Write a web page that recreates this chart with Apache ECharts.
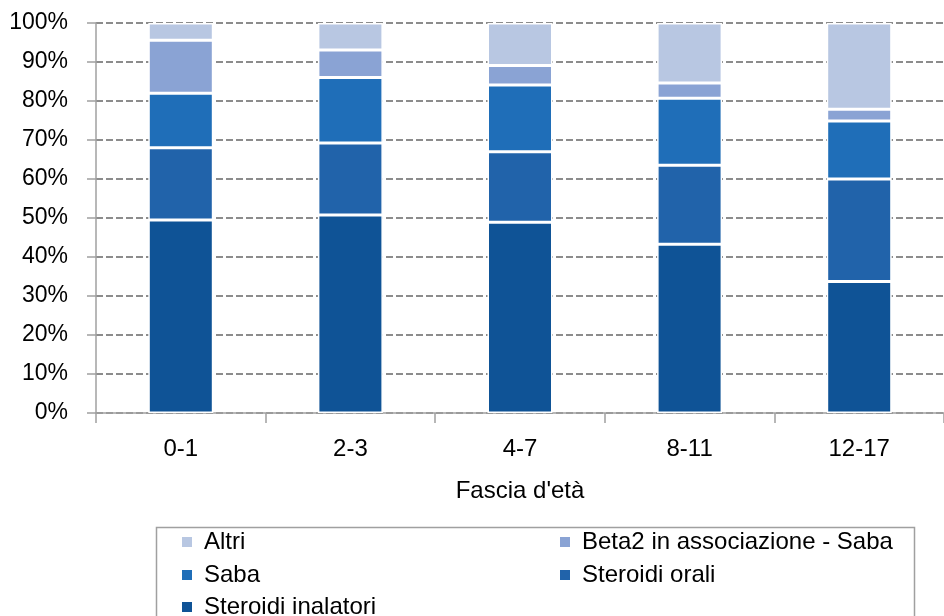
<!DOCTYPE html>
<html>
<head>
<meta charset="utf-8">
<script src="https://cdn.jsdelivr.net/npm/echarts@6/dist/echarts.min.js"></script>
<style>
html,body{margin:0;padding:0;background:#fff;}
#chart{width:944px;height:616px;}
</style>
</head>
<body>
<div id="chart"></div>
<script>
const categories = ['0-1', '2-3', '4-7', '8-11', '12-17'];
const steroidiInalatori = [49.5, 50.8, 48.9, 43.3, 33.7];
const steroidiOrali = [18.5, 18.4, 18.1, 20.2, 26.3];
const saba = [14.0, 16.8, 17.1, 17.2, 14.9];
const beta2Saba = [13.6, 7.1, 5.0, 3.9, 3.0];
const altri = [4.4, 6.9, 10.9, 15.4, 22.1];
const yTicks = [0, 10, 20, 30, 40, 50, 60, 70, 80, 90, 100];

const FONT = 'Liberation Sans';
const colors = {
  'Steroidi inalatori': '#0f5396',
  'Steroidi orali': '#2163aa',
  'Saba': '#1f6eb8',
  'Beta2 in associazione - Saba': '#8aa3d4',
  'Altri': '#b8c7e2'
};

const seriesDefs = [
  ['Steroidi inalatori', steroidiInalatori],
  ['Steroidi orali', steroidiOrali],
  ['Saba', saba],
  ['Beta2 in associazione - Saba', beta2Saba],
  ['Altri', altri]
];

// legend slots: [name, left, top]
const legendSlots = [
  ['Altri', 180, 530],
  ['Beta2 in associazione - Saba', 558, 530],
  ['Saba', 180, 563],
  ['Steroidi orali', 558, 563],
  ['Steroidi inalatori', 180, 595]
];

const chart = echarts.init(document.getElementById('chart'), null, {renderer: 'canvas'});
chart.setOption({
  animation: false,
  backgroundColor: '#fff',
  grid: {left: 96, top: 23, width: 855, height: 390, containLabel: false},
  graphic: [{
    type: 'rect', left: 154, top: 525,
    shape: {width: 758, height: 120},
    style: {fill: 'none', stroke: '#a0a0a0', lineWidth: 1.5},
    silent: true, z: 0
  }],
  legend: legendSlots.map(([name, left, top]) => ({
    orient: 'horizontal',
    left: left,
    top: top,
    padding: 0,
    icon: 'rect',
    itemWidth: 12,
    itemHeight: 12,
    textStyle: {fontFamily: FONT, fontSize: 24, color: '#000', lineHeight: 24, padding: [0, 0, 0, 6]},
    selectedMode: false,
    data: [name]
  })),
  xAxis: {
    type: 'category',
    data: categories,
    name: "Fascia d'età",
    nameLocation: 'middle',
    nameGap: 66,
    nameTextStyle: {fontFamily: FONT, fontSize: 24, color: '#000'},
    axisLine: {lineStyle: {color: '#a0a0a0', width: 1.5}},
    axisTick: {show: true, length: 10, lineStyle: {color: '#a0a0a0', width: 1.5}},
    axisLabel: {fontFamily: FONT, fontSize: 24, color: '#000', margin: 24}
  },
  yAxis: {
    type: 'value',
    min: yTicks[0],
    max: yTicks[yTicks.length - 1],
    interval: 10,
    axisLine: {show: true, lineStyle: {color: '#a0a0a0', width: 1.5}},
    axisTick: {show: true, length: 9, lineStyle: {color: '#a0a0a0', width: 1.5}},
    axisLabel: {fontFamily: FONT, fontSize: 23, color: '#000', margin: 28, formatter: '{value}%'},
    splitLine: {show: true, lineStyle: {color: '#8c8c8c', width: 1.8, type: [7, 3]}}
  },
  series: seriesDefs.map(([name, vals]) => ({
    name: name,
    type: 'bar',
    stack: 'total',
    barWidth: 65,
    data: vals,
    itemStyle: {color: colors[name], borderColor: '#ffffff', borderWidth: 1.5},
    emphasis: {disabled: true}
  }))
});
</script>
</body>
</html>
